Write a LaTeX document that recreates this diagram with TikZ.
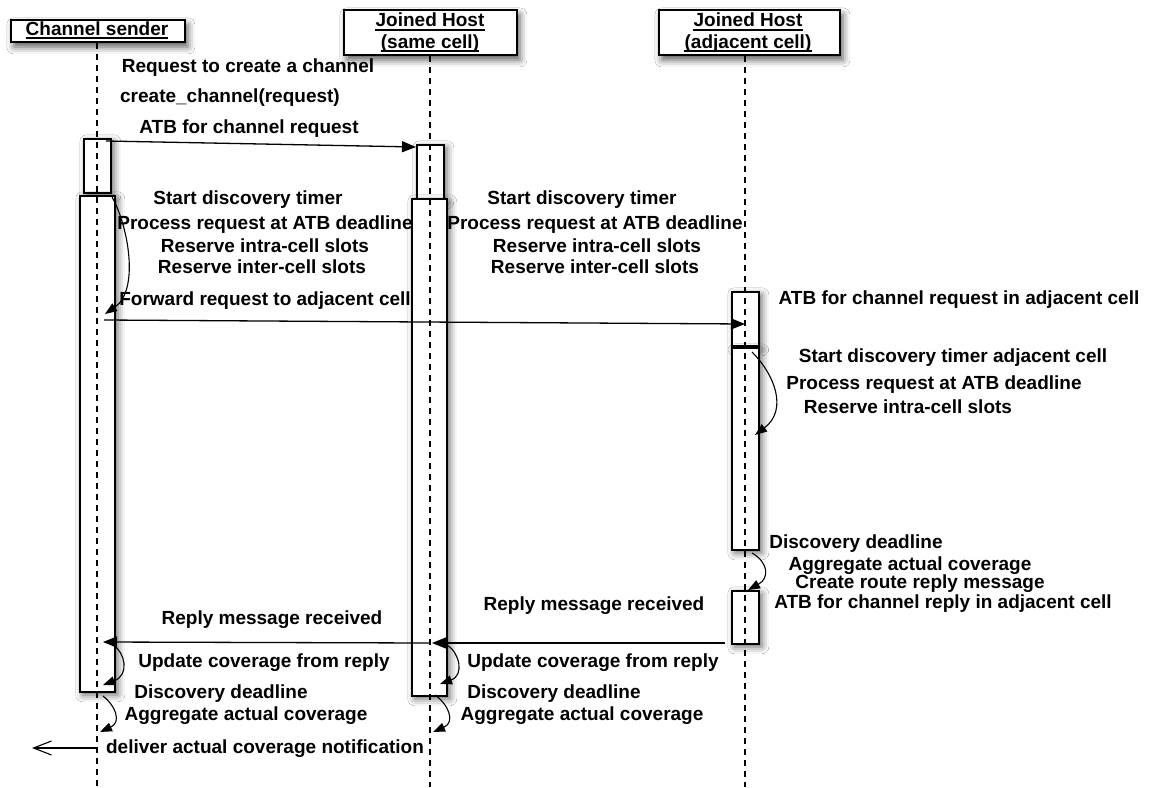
\documentclass[tikz,border=0pt]{standalone}
\usepackage{fontspec}
\setmainfont{Liberation Sans}
\usetikzlibrary{arrows.meta,shadows.blur,calc}

\begin{document}
\begin{tikzpicture}[x=1pt,y=-1pt,
  txt/.style={font=\bfseries\fontsize{19}{22}\selectfont, inner sep=0pt, anchor=base},
  head/.style={draw, line width=1.8pt, fill=white, inner sep=0pt, anchor=north west,
    blur shadow={shadow xshift=3pt, shadow yshift=-5pt, shadow blur radius=7pt, shadow opacity=65}},
  actbox/.style={draw, line width=1.6pt, fill=white, inner sep=0pt, anchor=north west,
    blur shadow={shadow xshift=3pt, shadow yshift=-3pt, shadow blur radius=7pt, shadow opacity=60}},
  life/.style={line width=1.2pt, dash pattern=on 6pt off 5pt},
  msg/.style={line width=1.3pt, -{Triangle[length=14pt,width=11pt]}},
  selfmsg/.style={line width=1.1pt, -{Triangle[length=12pt,width=9pt]}},
  outmsg/.style={line width=1.1pt, -{Straight Barb[length=18pt,width=14pt,line width=1.1pt]}},
  uline/.style={line width=1.3pt}
]
\useasboundingbox (0,0) rectangle (1153,787);
\fill[white] (0,0) rectangle (1153,787);

% participant heads
\node[head, minimum width=174pt, minimum height=22pt] (hSend) at (10,19) {};
\node[head, minimum width=173pt, minimum height=45pt] (hSame) at (343,9) {};
\node[head, minimum width=181pt, minimum height=45pt] (hAdj) at (658,9) {};

\node[txt] (tSend) at (97,35) {Channel sender};
\node[txt] (tSame1) at (430,27) {Joined Host};
\node[txt] (tSame2) at (430,48) {(same cell)};
\node[txt] (tAdj1) at (748,27) {Joined Host};
\node[txt] (tAdj2) at (748,48) {(adjacent cell)};
\foreach \t in {tSend,tSame1,tSame2,tAdj1,tAdj2}
  \draw[uline] ([yshift=-3pt]\t.base west) -- ([yshift=-3pt]\t.base east);

% activation bars
\node[actbox, minimum width=27pt, minimum height=54pt] (sA) at (83,138) {};
\node[actbox, minimum width=35pt, minimum height=496pt] (sB) at (79,195) {};
\node[actbox, minimum width=27pt, minimum height=54pt] (mA) at (416,144) {};
\node[actbox, minimum width=35pt, minimum height=497pt] (mB) at (411,198) {};
\node[actbox, minimum width=27pt, minimum height=54pt] (aA) at (731,291) {};
\node[actbox, minimum width=27pt, minimum height=202pt] (aB) at (731,347) {};
\node[actbox, minimum width=27pt, minimum height=53pt] (aC) at (731,590) {};

% lifelines
\coordinate (lSend) at (97,787);
\coordinate (lSame) at (430,787);
\coordinate (lAdj) at (745,787);
\draw[life] (hSend.south -| lSend) -- (lSend);
\draw[life] (hSame.south -| lSame) -- (lSame);
\draw[life] (hAdj.south -| lAdj) -- (lAdj);

% message end points
\coordinate (m1a) at (106,141);
\coordinate (m1b) at (416,147);
\coordinate (m2a) at (104,320);
\coordinate (m2b) at (745,324);
\coordinate (m3a) at (725,643);
\coordinate (m3b) at (432,643);
\coordinate (m3c) at (430,643);
\coordinate (m3d) at (103,642);
\coordinate (m4a) at (97,748);
\coordinate (m4b) at (32,748);

% messages
\draw[msg] (m1a) -- (m1b);
\draw[msg] (m2a) -- (m2b);
\draw[msg] (m3a) -- (m3b);
\draw[msg] (m3c) -- (m3d);
\draw[outmsg] (m4a) -- (m4b);

% self messages
\draw[selfmsg] (112,197) .. controls (128,225) and (140,290) .. (105,314);
\draw[selfmsg] (752,352) .. controls (775,375) and (788,410) .. (755,435);
\draw[selfmsg] (752,553) .. controls (768,562) and (770,578) .. (748,590);
\draw[selfmsg] (113,645) .. controls (125,652) and (130,675) .. (103,685);
\draw[selfmsg] (103,696) .. controls (115,705) and (122,722) .. (100,732);
\draw[selfmsg] (447,645) .. controls (459,652) and (465,675) .. (440,684);
\draw[selfmsg] (435,695) .. controls (448,704) and (456,722) .. (433,732);

% labels: channel sender side
\node[txt] (l1) at (248,72) {Request to create a channel};
\node[txt] (l2) at (230,102) {create\_channel(request)};
\node[txt] (l3) at (249,133) {ATB for channel request};
\node[txt] (l4) at (248,204) {Start discovery timer};
\node[txt] (l5) at (265,229) {Process request at ATB deadline};
\node[txt] (l6) at (265,252) {Reserve intra-cell slots};
\node[txt] (l7) at (262,273) {Reserve inter-cell slots};
\node[txt] (l8) at (265,305) {Forward request to adjacent cell};
\node[txt] (l9) at (272,624) {Reply message received};
\node[txt] (l10) at (264,667) {Update coverage from reply};
\node[txt] (l11) at (221,698) {Discovery deadline};
\node[txt] (l12) at (246,720) {Aggregate actual coverage};
\node[txt] (l13) at (265,753) {deliver actual coverage notification};

% labels: same cell host
\node[txt] (r1) at (582,204) {Start discovery timer};
\node[txt] (r2) at (595,229) {Process request at ATB deadline};
\node[txt] (r3) at (597,252) {Reserve intra-cell slots};
\node[txt] (r4) at (595,273) {Reserve inter-cell slots};
\node[txt] (r5) at (594,610) {Reply message received};
\node[txt] (r6) at (593,667) {Update coverage from reply};
\node[txt] (r7) at (554,698) {Discovery deadline};
\node[txt] (r8) at (582,720) {Aggregate actual coverage};

% labels: adjacent cell host
\node[txt] (a1) at (959,304) {ATB for channel request in adjacent cell};
\node[txt] (a2) at (953,362) {Start discovery timer adjacent cell};
\node[txt] (a3) at (934,389) {Process request at ATB deadline};
\node[txt] (a4) at (908,413) {Reserve intra-cell slots};
\node[txt] (a5) at (856,548) {Discovery deadline};
\node[txt] (a6) at (910,570) {Aggregate actual coverage};
\node[txt] (a7) at (920,588) {Create route reply message};
\node[txt] (a8) at (943,608) {ATB for channel reply in adjacent cell};
\end{tikzpicture}
\end{document}
